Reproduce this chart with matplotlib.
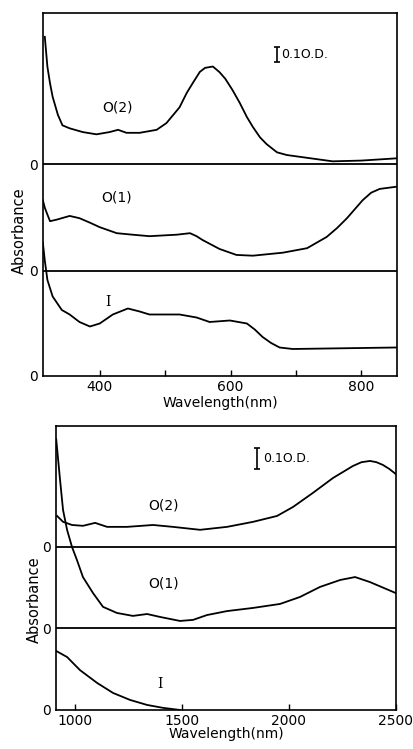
import matplotlib.pyplot as plt
import numpy as np

# ---- top panel: visible / near IR (nm, absorbance above own baseline) ----
vis_o2_nm = [316, 318, 320, 324, 328, 336, 343, 354, 374, 395, 415, 428, 441, 461, 487,
             502, 522, 533, 542, 553, 561, 573, 583, 592, 603, 614, 625, 634, 645,
             655, 671, 686, 706, 756, 800, 854]
vis_o2_abs = [0.85, 0.75, 0.65, 0.54, 0.45, 0.33, 0.26, 0.24, 0.215, 0.20, 0.215, 0.23,
              0.21, 0.21, 0.23, 0.275, 0.38, 0.476, 0.54, 0.616, 0.643, 0.652, 0.615,
              0.57, 0.495, 0.41, 0.315, 0.25, 0.18, 0.135, 0.08, 0.062, 0.05, 0.02,
              0.025, 0.04]

vis_o1_nm = [313, 316, 319, 324, 334, 354, 369, 385, 400, 426, 450, 476, 518, 538, 548,
             557, 570, 583, 609, 634, 680, 717, 747, 763, 778, 802, 815, 828, 854]
vis_o1_abs = [0.47, 0.42, 0.385, 0.33, 0.34, 0.365, 0.35, 0.32, 0.29, 0.25, 0.24, 0.23,
              0.24, 0.25, 0.23, 0.205, 0.175, 0.145, 0.105, 0.10, 0.12, 0.15, 0.225,
              0.285, 0.35, 0.47, 0.52, 0.545, 0.56]

vis_i_nm = [313, 316, 320, 328, 342, 354, 369, 385, 400, 410, 420, 443, 461, 476, 522,
            548, 568, 599, 625, 637, 649, 662, 675, 695, 854]
vis_i_abs = [0.89, 0.77, 0.64, 0.53, 0.44, 0.41, 0.36, 0.33, 0.35, 0.38, 0.41, 0.45,
             0.43, 0.41, 0.41, 0.39, 0.36, 0.37, 0.35, 0.31, 0.26, 0.22, 0.19, 0.18, 0.19]

# ---- bottom panel: IR ----
ir_o2_nm = [916, 944, 986, 1037, 1094, 1150, 1243, 1365, 1458, 1585, 1711, 1833,
            1945, 2020, 2113, 2207, 2300, 2340, 2380, 2410, 2440, 2470, 2500]
ir_o2_abs = [0.146, 0.118, 0.103, 0.099, 0.113, 0.094, 0.094, 0.103, 0.094, 0.08,
             0.094, 0.118, 0.146, 0.189, 0.256, 0.327, 0.384, 0.402, 0.408, 0.402,
             0.389, 0.37, 0.346]

ir_o1_nm = [912, 930, 944, 963, 986, 1009, 1037, 1084, 1131, 1196, 1271, 1337, 1398,
            1491, 1552, 1617, 1711, 1833, 1959, 2052, 2146, 2240, 2310, 2380, 2500]
ir_o1_abs = [0.90, 0.706, 0.563, 0.468, 0.387, 0.325, 0.244, 0.168, 0.102, 0.073,
             0.059, 0.068, 0.054, 0.035, 0.040, 0.063, 0.082, 0.097, 0.116, 0.149,
             0.197, 0.230, 0.244, 0.220, 0.168]

ir_i_nm = [912, 963, 1023, 1103, 1178, 1257, 1337, 1412, 1491]
ir_i_abs = [0.281, 0.252, 0.19, 0.129, 0.081, 0.048, 0.024, 0.010, 0.0]

# vertical offsets of the stacked spectra (O.D.)
vis_offsets = [0.0, 0.702, 1.411]
ir_offsets = [0.0, 0.389, 0.778]

plt.rcParams['font.family'] = 'DejaVu Sans'
fig = plt.figure(figsize=(4.13, 7.49), dpi=100)

ax1 = fig.add_axes([0.1053, 0.498, 0.8552, 0.4853])
ax2 = fig.add_axes([0.1356, 0.0521, 0.8225, 0.3796])

lw = 1.3
# top panel
ax1.plot(vis_i_nm, np.array(vis_i_abs) + vis_offsets[0], 'k-', lw=lw)
ax1.plot(vis_o1_nm, np.array(vis_o1_abs) + vis_offsets[1], 'k-', lw=lw)
ax1.plot(vis_o2_nm, np.array(vis_o2_abs) + vis_offsets[2], 'k-', lw=lw)
for off in vis_offsets[1:]:
    ax1.axhline(off, color='k', lw=lw)
ax1.set_xlim(314, 854)
ax1.set_ylim(0, 2.423)
ax1.set_xticks([400, 600, 800])
ax1.set_xticks([500, 700], minor=True)
ax1.set_yticks(vis_offsets)
ax1.set_yticklabels(['0', '0', '0'])
ax1.set_xlabel('Wavelength(nm)', fontsize=10, labelpad=1)
ax1.set_ylabel('Absorbance', fontsize=10.5)
ax1.yaxis.set_label_coords(-0.048, 0.40)
ax1.text(427, 1.787, 'O(2)', fontsize=10, ha='center', va='center')
ax1.text(426, 1.193, 'O(1)', fontsize=10, ha='center', va='center')
ax1.text(412, 0.493, 'I', fontsize=10, ha='center', va='center', family='DejaVu Serif')
# 0.1 O.D. scale bar
ax1.errorbar([671], [2.143], yerr=[0.05], color='k', lw=1.2, capsize=2.5, capthick=1.2)
ax1.text(678, 2.143, '0.1O.D.', fontsize=9, ha='left', va='center')

# bottom panel
ax2.plot(ir_i_nm, np.array(ir_i_abs) + ir_offsets[0], 'k-', lw=lw)
ax2.plot(ir_o1_nm, np.array(ir_o1_abs) + ir_offsets[1], 'k-', lw=lw)
ax2.plot(ir_o2_nm, np.array(ir_o2_abs) + ir_offsets[2], 'k-', lw=lw)
for off in ir_offsets[1:]:
    ax2.axhline(off, color='k', lw=lw)
ax2.set_xlim(911, 2500)
ax2.set_ylim(0, 1.354)
ax2.set_xticks([1000, 1500, 2000, 2500])
ax2.set_yticks(ir_offsets)
ax2.set_yticklabels(['0', '0', '0'])
ax2.set_xlabel('Wavelength(nm)', fontsize=10, labelpad=-1)
ax2.set_ylabel('Absorbance', fontsize=10.5)
ax2.yaxis.set_label_coords(-0.042, 0.387)
ax2.text(1412, 0.976, 'O(2)', fontsize=10, ha='center', va='center')
ax2.text(1416, 0.60, 'O(1)', fontsize=10, ha='center', va='center')
ax2.text(1398, 0.124, 'I', fontsize=10, ha='center', va='center', family='DejaVu Serif')
ax2.errorbar([1851], [1.198], yerr=[0.05], color='k', lw=1.2, capsize=2.5, capthick=1.2)
ax2.text(1879, 1.198, '0.1O.D.', fontsize=9, ha='left', va='center')

for ax in (ax1, ax2):
    for s in ax.spines.values():
        s.set_linewidth(1.2)
    ax.tick_params(axis='x', which='both', direction='in', length=4.5, width=1.0,
                   labelsize=10, pad=3)
    ax.tick_params(axis='y', length=0, labelsize=10, pad=4)

fig.savefig('out.png', dpi=100)
